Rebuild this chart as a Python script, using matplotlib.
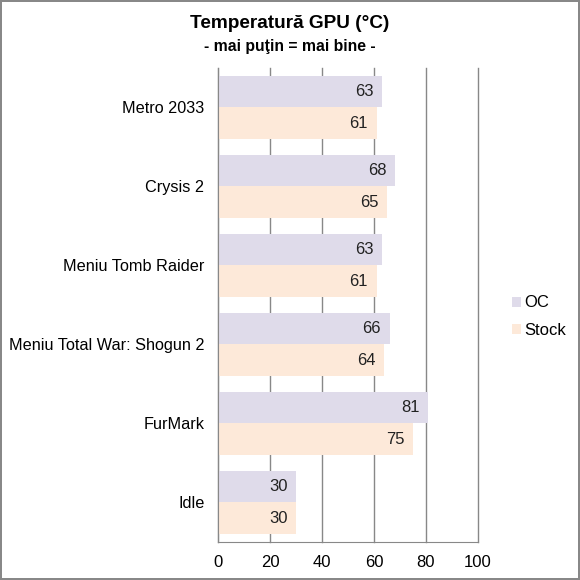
import matplotlib.pyplot as plt
import numpy as np

plt.rcParams['font.family'] = ['Liberation Sans', 'DejaVu Sans']

# Date
categories = ['Metro 2033', 'Crysis 2', 'Meniu Tomb Raider',
              'Meniu Total War: Shogun 2', 'FurMark', 'Idle']
oc = [63, 68, 63, 66, 81, 30]
stock = [61, 65, 61, 64, 75, 30]
series_names = ['OC', 'Stock']
colors = ['#DFDBEA', '#FDE9D9']

fig = plt.figure(figsize=(5.8, 5.8), dpi=100)
ax = fig.add_axes([0.3765, 0.0655, 0.4472, 0.8177])

y = np.arange(len(categories))
h = 0.40
bars_oc = ax.barh(y - h / 2, oc, height=h, color=colors[0], label=series_names[0], zorder=2)
bars_st = ax.barh(y + h / 2, stock, height=h, color=colors[1], label=series_names[1], zorder=2)

# etichete de valoare in interiorul barelor
for bars in (bars_oc, bars_st):
    for b in bars:
        w = b.get_width()
        ax.text(w - 3.3, b.get_y() + b.get_height() / 2, f'{int(w)}',
                ha='right', va='center', fontsize=12, color='#222222', zorder=3)

ax.set_xlim(0, 100)
ax.set_ylim(len(categories) - 0.5, -0.5)
ax.set_xticks([0, 20, 40, 60, 80, 100])
ax.set_yticks(y)
ax.set_yticklabels(categories, fontsize=11.7)
ax.tick_params(axis='x', labelsize=12, length=0, pad=9)
ax.tick_params(axis='y', length=0, pad=10)
ax.xaxis.grid(True, color='#888888', linewidth=1, zorder=0)
for gl in ax.get_xgridlines():
    gl.set_clip_on(False)
ax.set_axisbelow(True)
for s in ['top', 'right']:
    ax.spines[s].set_visible(False)
for s in ['left', 'bottom']:
    ax.spines[s].set_color('#888888')

fig.text(0.5, 0.959, 'Temperatură GPU (°C)', ha='center', va='center',
         fontsize=13.7, fontweight='bold')
fig.text(0.5, 0.92, '- mai puţin = mai bine -', ha='center', va='center',
         fontsize=11.3, fontweight='bold')

fig.legend(loc='center left', bbox_to_anchor=(0.857, 0.454), frameon=False,
           fontsize=12, handlelength=0.55, handleheight=0.55, handletextpad=0.2,
           labelspacing=0.75)

fig.patch.set_edgecolor('#888888')
fig.patch.set_linewidth(1.5)
fig.patch.set_facecolor('white')

plt.savefig('out.png', dpi=100)
